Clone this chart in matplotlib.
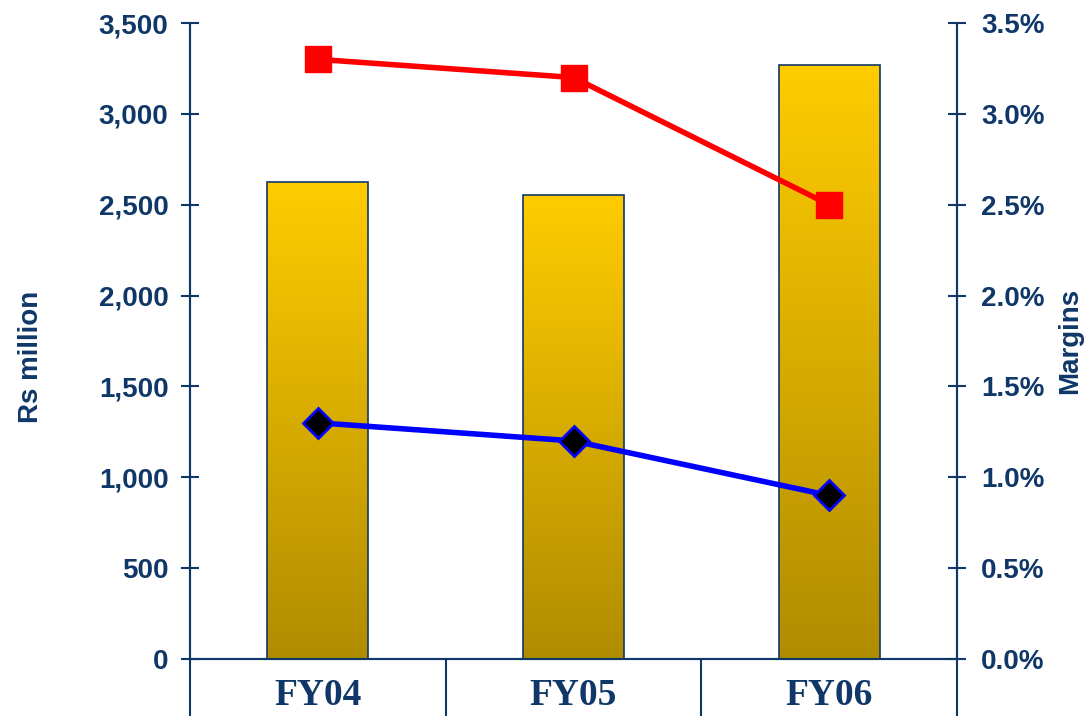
import numpy as np
import matplotlib
matplotlib.use('Agg')
from matplotlib import pyplot as plt
from matplotlib.colors import LinearSegmentedColormap
from matplotlib.ticker import FuncFormatter, FixedLocator

categories = ['FY04', 'FY05', 'FY06']
revenue = [2625, 2555, 3270]          # Rs million (bars)
margin_red = [3.3, 3.2, 2.5]          # % (red squares)
margin_blue = [1.3, 1.2, 0.9]         # % (blue diamonds)

navy = '#0f3768'
gold = LinearSegmentedColormap.from_list('gold', ['#b08c00', '#ffcc00'])

fig = plt.figure(figsize=(10.85, 7.16), dpi=100)
ax = fig.add_axes([190 / 1085, 1 - 659 / 716, 767 / 1085, 636 / 716])
ax2 = ax.twinx()

x = np.arange(len(categories))
bars = ax.bar(x, revenue, width=0.395, facecolor='none', edgecolor=navy, linewidth=1.2, zorder=3)
grad = np.linspace(0, 1, 256).reshape(-1, 1)
for b in bars:
    bx, by = b.get_x(), b.get_y()
    im = ax.imshow(grad, cmap=gold, origin='lower', aspect='auto',
                   extent=[bx, bx + b.get_width(), by, by + b.get_height()], zorder=2)
    im.set_clip_path(b)

ax.set_xlim(-0.5, 2.5)
ax.set_ylim(0, 3500)
ax2.set_ylim(0, 3.5)

ax2.plot(x, margin_red, color='#ff0000', linewidth=4, marker='s', markersize=19,
         markerfacecolor='#ff0000', markeredgecolor='#ff0000', solid_capstyle='butt')
ax2.plot(x, margin_blue, color='#0000ff', linewidth=4, marker='D', markersize=15,
         markerfacecolor='black', markeredgecolor='#0000ff', markeredgewidth=2)

for a in (ax, ax2):
    a.spines['top'].set_visible(False)
    for s in ('left', 'right', 'bottom'):
        a.spines[s].set_color(navy)
        a.spines[s].set_linewidth(1.5)

ax.set_yticks(np.arange(0, 3501, 500))
ax.yaxis.set_major_formatter(FuncFormatter(lambda v, p: f'{int(v):,}'))
ax2.set_yticks(np.arange(0, 3.51, 0.5))
ax2.yaxis.set_major_formatter(FuncFormatter(lambda v, p: f'{v:.1f}%'))
ax.tick_params(axis='y', direction='inout', length=13, width=1.5, color=navy,
               labelsize=20, labelcolor=navy, pad=9)
ax2.tick_params(axis='y', direction='inout', length=13, width=1.5, color=navy,
                labelsize=20, labelcolor=navy, pad=11)
for lab in ax.get_yticklabels() + ax2.get_yticklabels():
    lab.set_fontweight('bold')
    lab.set_family('Liberation Sans')

# category labels and separators below the axis
ax.set_xticks(x)
ax.set_xticklabels(categories, fontsize=27, fontweight='bold', family='Liberation Serif', color=navy)
ax.tick_params(axis='x', which='major', length=0, pad=14)
ax.xaxis.set_minor_locator(FixedLocator([-0.5, 0.5, 1.5, 2.5]))
ax.tick_params(axis='x', which='minor', direction='out', length=42, width=1.5, color=navy)

ax.set_ylabel('Rs million', fontsize=20, fontweight='bold', color=navy, family='Liberation Sans')
ax2.set_ylabel('Margins', fontsize=20, fontweight='bold', color=navy, family='Liberation Sans')
ax.yaxis.set_label_coords(-0.190, 0.475)
ax2.yaxis.set_label_coords(1.130, 0.5)

fig.savefig('out.png', dpi=100)
